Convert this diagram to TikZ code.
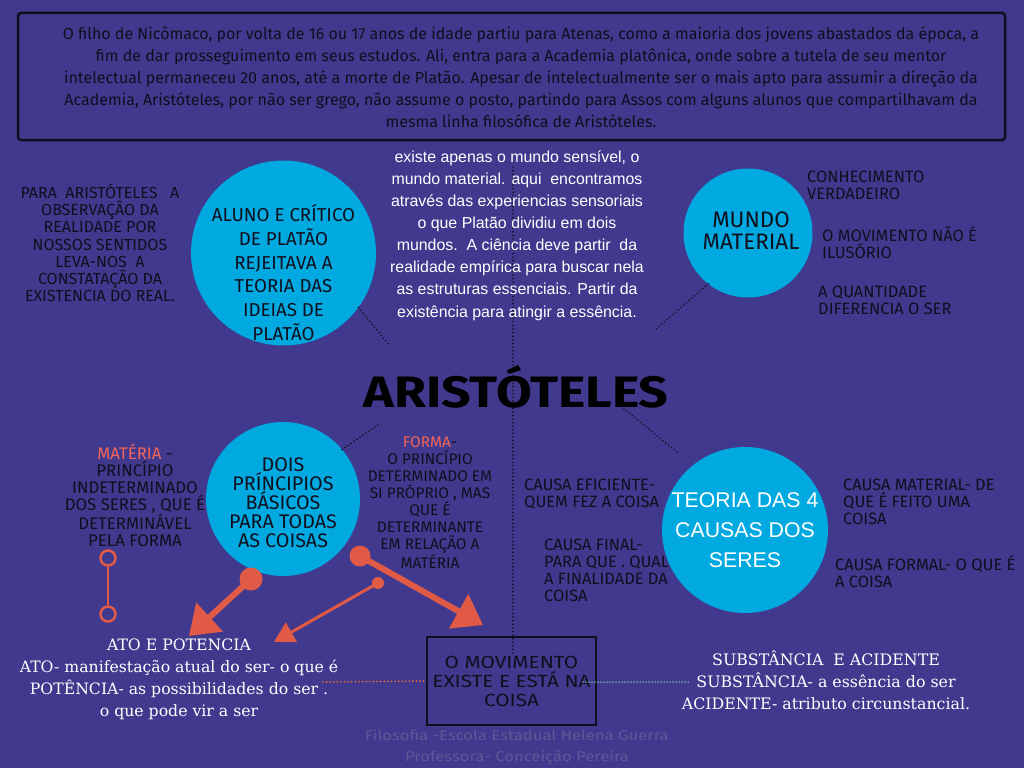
\documentclass[tikz,border=0pt]{standalone}
\usepackage{fontspec}
\setmainfont{Liberation Sans}
\newfontfamily\exo{Fira Sans}
\newfontfamily\exolargo{Fira Sans}[FakeStretch=1.18]
\newfontfamily\serifa{DejaVu Serif}
\usetikzlibrary{arrows.meta}

\definecolor{fundo}{RGB}{65,57,141}
\definecolor{azul}{RGB}{0,169,224}
\definecolor{laranja}{RGB}{224,90,70}
\definecolor{salmao}{RGB}{242,100,90}
\definecolor{tinta}{RGB}{15,15,30}
\definecolor{rodape}{RGB}{95,88,150}
\definecolor{verdeclaro}{RGB}{150,225,190}
\definecolor{laranjavivo}{RGB}{255,110,40}

\tikzset{
  bola/.style={circle, fill=azul, inner sep=0pt},
  caixa/.style={text=tinta, align=center, inner sep=0pt},
  lista/.style={text=tinta, align=left, anchor=west, inner sep=0pt,
    font=\exo\fontsize{16.4}{17}\selectfont},
  ligacao/.style={line width=1.8pt, dash pattern=on 0pt off 3.6pt, line cap=round, draw=tinta},
  ponto/.style={circle, fill=laranja, inner sep=0pt},
  seta/.style={draw=laranja, line width=6pt,
    -{Triangle[width=38pt,length=28pt]}},
}

\begin{document}
\begin{tikzpicture}[x=1pt,y=-1pt]

\fill[fundo] (0,0) rectangle (1024,768);
\useasboundingbox (0,0) rectangle (1024,768);

% quadro de cima
\draw[tinta, line width=2.5pt, rounded corners=3pt] (18,13) rectangle (1005,140);
\node[caixa, font=\exo\fontsize{16}{22}\selectfont] (biografia) at (521,77)
  {O filho de Nicômaco, por volta de 16 ou 17 anos de idade partiu para Atenas, como a maioria dos jovens abastados da época, a\\
   fim de dar prosseguimento em seus estudos. Ali, entra para a Academia platônica, onde sobre a tutela de seu mentor\\
   intelectual permaneceu 20 anos, até a morte de Platão. Apesar de intelectualmente ser o mais apto para assumir a direção da\\
   Academia, Aristóteles, por não ser grego, não assume o posto, partindo para Assos com alguns alunos que compartilhavam da\\
   mesma linha filosófica de Aristóteles.};

% eixo central
\coordinate (eixotopo) at (513,167);
\coordinate (eixobase) at (513,655);
\draw[ligacao] (eixotopo) -- (eixobase);

% texto branco do meio
\node[caixa, text=white, font=\fontsize{15.9}{22.1}\selectfont] (sensivel) at (517,235.5)
  {existe apenas o mundo sensível, o\\
   mundo material. aqui\ \ encontramos\\
   através das experiencias sensoriais\\
   o que Platão dividiu em dois\\
   mundos.\ \ A ciência deve partir\ \ da\\
   realidade empírica para buscar nela\\
   as estruturas essenciais. Partir da\\
   existência para atingir a essência.};

% titulo
\node[text=black, font=\exolargo\bfseries\fontsize{44}{50}\selectfont, inner sep=0pt] (titulo) at (516,387) {ARISTÓTELES};

% aluno e critico
\node[bola, minimum size=185pt] (aluno) at (283.5,253) {};
\node[caixa, font=\exo\fontsize{18.7}{23.8}\selectfont] (alunotxt) at (283.5,272.5)
  {ALUNO E CRÍTICO\\ DE PLATÃO\\ REJEITAVA A\\ TEORIA DAS\\ IDEIAS DE\\ PLATÃO};
\node[caixa, font=\exo\fontsize{16}{17.2}\selectfont] (observacao) at (100,243)
  {PARA\ \ ARISTÓTELES\ \ \ A\\ OBSERVAÇÃO DA\\ REALIDADE POR\\ NOSSOS SENTIDOS\\ LEVA-NOS\ \ A\\ CONSTATAÇÃO DA\\ EXISTENCIA DO REAL.};
\coordinate (c1) at (390,346);
\draw[ligacao] (aluno.-36) -- (c1);

% mundo material
\node[bola, minimum size=129pt] (mundo) at (748,233) {};
\node[caixa, font=\exo\fontsize{22.4}{22}\selectfont] (mundotxt) at (751,231) {MUNDO\\ MATERIAL};
\node[lista] (verdadeiro) at (807,185.5) {CONHECIMENTO\\ VERDADEIRO};
\node[lista] (ilusorio) at (822,242.5) {O MOVIMENTO NÃO É\\ ILUSÓRIO};
\node[lista] (quantidade) at (818,300.5) {A QUANTIDADE\\ DIFERENCIA O SER};
\coordinate (c2) at (655,330);
\draw[ligacao] (mundo.-128) -- (c2);

% dois principios
\node[bola, minimum size=154pt] (dois) at (283,499) {};
\node[caixa, font=\exo\fontsize{19.7}{19}\selectfont] (doistxt) at (283,503)
  {DOIS\\ PRÍNCIPIOS\\ BÁSICOS\\ PARA TODAS\\ AS COISAS};
\node[caixa, font=\exo\fontsize{16.8}{17}\selectfont] (materia) at (135,495.5)
  {\textcolor{salmao}{MATÉRIA} -\\ PRINCÍPIO\\ INDETERMINADO\\ DOS SERES , QUE É\\ DETERMINÁVEL\\ PELA FORMA};
\node[caixa, font=\exo\fontsize{15.4}{17}\selectfont] (forma) at (430,502.5)
  {\textcolor{salmao}{FORMA}-\\ O PRINCÍPIO\\ DETERMINADO EM\\ SI PRÓPRIO , MAS\\ QUE É\\ DETERMINANTE\\ EM RELAÇÃO A\\ MATÉRIA};
\coordinate (c3) at (378,425);
\draw[ligacao] (dois.40) -- (c3);

% teoria das 4 causas
\node[bola, minimum size=166pt, text=white, align=center, font=\fontsize{21.3}{30}\selectfont] (teoria) at (745,530)
  {TEORIA DAS 4\\ CAUSAS DOS\\ SERES};
\node[lista] (eficiente) at (524,494.5) {CAUSA EFICIENTE-\\ QUEM FEZ A COISA};
\node[lista] (final) at (544,570.5) {CAUSA FINAL-\\ PARA QUE . QUAL\\ A FINALIDADE DA\\ COISA};
\node[lista] (material) at (843,502) {CAUSA MATERIAL- DE\\ QUE É FEITO UMA\\ COISA};
\node[lista] (formal) at (835,571.5) {CAUSA FORMAL- O QUE É\\ A COISA};
\coordinate (c4) at (617,403);
\coordinate (c4b) at (677,452);
\draw[ligacao] (c4b) -- (c4);

% ligador da materia
\node[circle, draw=laranja, line width=2.5pt, minimum size=15pt, inner sep=0pt] (elo1) at (108,558) {};
\node[circle, draw=laranja, line width=2.5pt, minimum size=15pt, inner sep=0pt] (elo2) at (108,614) {};
\draw[laranja, line width=2.5pt] (elo1) -- (elo2);

% setas
\node[ponto, minimum size=23pt] (p1) at (251,579) {};
\node[ponto, minimum size=21pt] (p2) at (360,556) {};
\node[ponto, minimum size=12pt] (p3) at (378,583) {};
\coordinate (ato) at (189,636);
\coordinate (movimento) at (483,625);
\coordinate (potencia) at (274,642);
\draw[seta] (p1.center) -- (ato);
\draw[seta] (p2.center) -- (movimento);
\draw[laranja, line width=3pt, -{Triangle[width=22pt,length=20pt]}] (p3.center) -- (potencia);

% caixa do movimento
\node[draw=tinta, line width=1.5pt, minimum width=169pt, minimum height=88pt, inner sep=0pt,
  align=center, text=tinta, font=\exolargo\fontsize{17.6}{19}\selectfont] (caixamov) at (511.5,681)
  {O MOVIMENTO\\ EXISTE E ESTÁ NA\\ COISA};

% ato e potencia
\node[caixa, text=white, font=\serifa\fontsize{15.7}{22}\selectfont] (atopot) at (179,679.5)
  {ATO E POTENCIA\\ ATO- manifestação atual do ser- o que é\\ POTÊNCIA- as possibilidades do ser .\\ o que pode vir a ser};
\coordinate (c5) at (323,682);
\draw[ligacao, draw=laranjavivo] (c5) -- (caixamov.west);

% substancia e acidente
\node[caixa, text=white, font=\serifa\fontsize{15.8}{22}\selectfont] (subst) at (826,680)
  {SUBSTÂNCIA\ \ E ACIDENTE\\ SUBSTÂNCIA- a essência do ser\\ ACIDENTE- atributo circunstancial.};
\coordinate (c6) at (583,682);
\coordinate (c7) at (688,682);
\draw[line width=1.5pt, dash pattern=on 0pt off 3pt, line cap=round, draw=verdeclaro] (c6) -- (c7);

% rodape
\node[text=rodape, font=\exolargo\fontsize{14.1}{21}\selectfont, align=center, inner sep=0pt] (autoria) at (517,747.5)
  {Filosofia -Escola Estadual Helena Guerra\\ Professora- Conceição Pereira};

\end{tikzpicture}
\end{document}
